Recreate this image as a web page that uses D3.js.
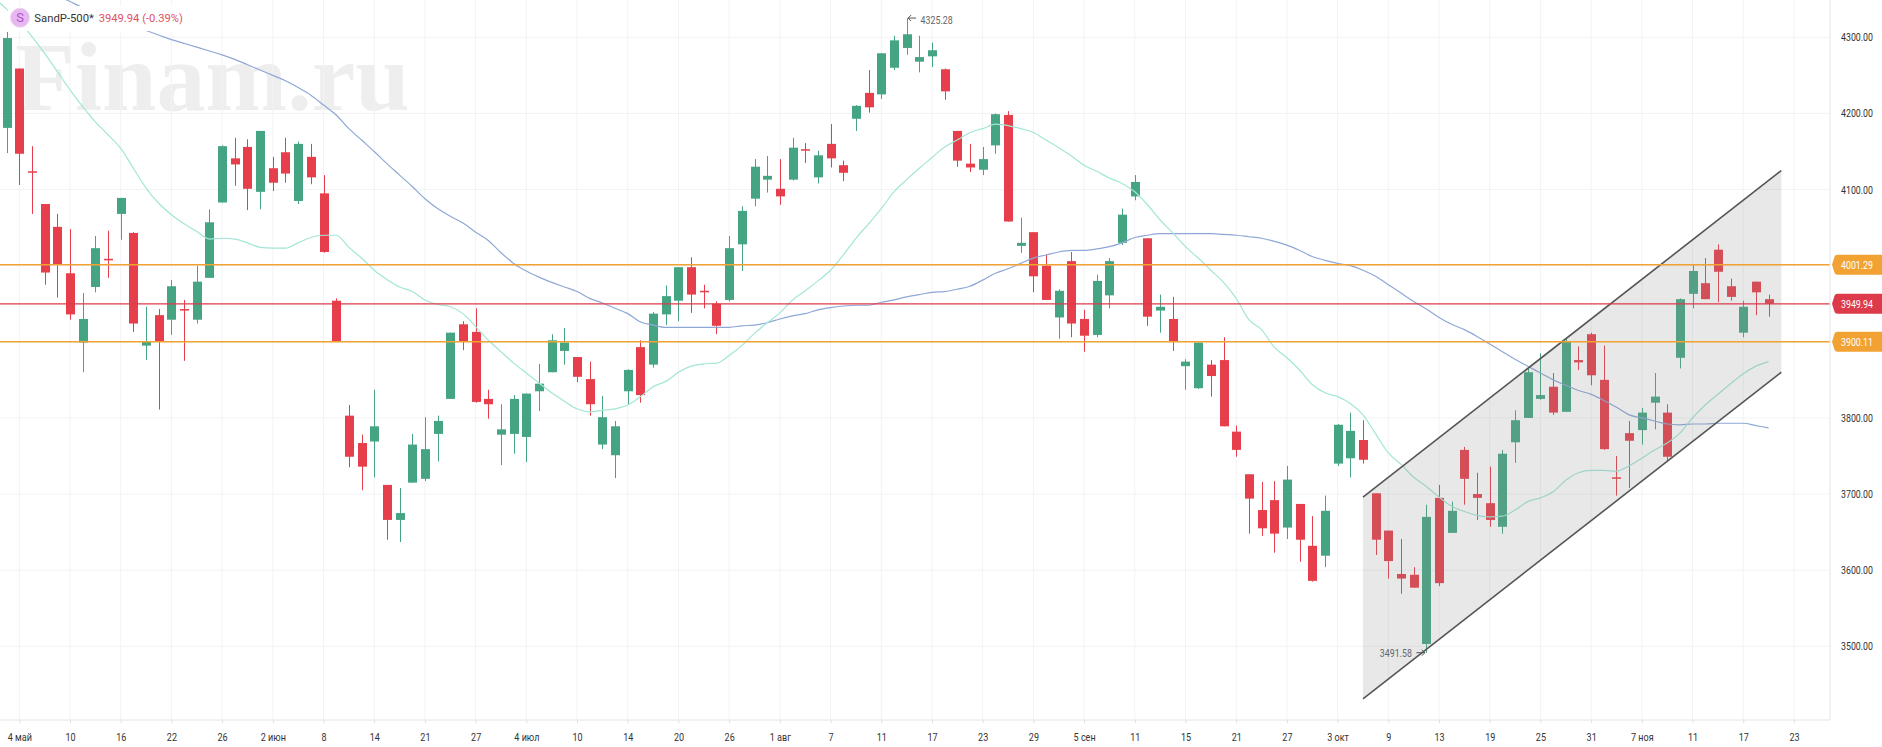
<!DOCTYPE html>
<html>
<head>
<meta charset="utf-8">
<script src="https://cdn.jsdelivr.net/npm/d3@7"></script>
<style>
html,body{margin:0;padding:0;background:#fff;overflow:hidden}
svg{display:block}
text{font-family:Roboto,Arial,sans-serif}
</style>
</head>
<body>
<svg id="chart" width="1882" height="747"></svg>
<script>
// daily bars
const opens=[4181,4259,4124,4081,4051,3990,3899,3972,4009,4068,
4043,3895,3935,3929,3943,3929,3984,4083,4141,4156,
4097,4128,4149,4085,4143,4095,3954,3803,3767,3769,
3712,3666,3715,3720,3779,3825,3923,3913,3825,3778,
3779,3775,3835,3860,3888,3880,3851,3765,3751,3835,
3893,3870,3936,3954,3998,3967,3950,3955,4028,4088,
4113,4101,4113,4153,4116,4160,4132,4193,4227,4225,
4260,4286,4268,4275,4258,4177,4134,4126,4158,4198,
4026,4044,4000,3932,4006,3930,3909,3961,4030,4091,
4036,3941,3930,3868,3839,3870,3876,3782,3726,3679,
3692,3656,3687,3632,3619,3740,3747,3771,3701,3652,
3595,3594,3503,3695,3649,3758,3700,3688,3657,3768,
3800,3825,3841,3808,3876,3910,3850,3722,3780,3784,
3820,3807,3879,3963,3977,4021,3973,3912,3979,3956]
const closes=[4299,4147,4123,3991,4002,3936,3930,4023,4008,4089,
3924,3901,3901,3973,3941,3979,4057,4157,4133,4101,
4177,4109,4121,4160,4116,4018,3901,3749,3736,3789,
3666,3675,3765,3759,3796,3912,3900,3821,3818,3785,
3825,3832,3845,3902,3899,3854,3818,3801,3789,3863,
3830,3937,3960,3998,3962,3965,3921,4023,4072,4130,
4118,4091,4155,4152,4145,4141,4122,4210,4208,4279,
4296,4304,4274,4283,4229,4138,4129,4140,4199,4058,
4030,3986,3955,3967,3924,3908,3980,4006,4067,4110,
3933,3946,3901,3874,3899,3855,3789,3758,3694,3655,
3648,3719,3640,3586,3678,3791,3783,3745,3640,3612,
3589,3577,3670,3583,3678,3720,3695,3666,3753,3797,
3860,3830,3807,3900,3873,3856,3759,3720,3770,3807,
3828,3749,3956,3993,3956,3992,3959,3946,3965,3950]
const highs=[4307,4259,4157,4081,4068,4048,3964,4039,4046,4089,
4044,3946,3943,3981,3955,4000,4074,4158,4168,4166,
4177,4143,4168,4163,4160,4119,3957,3817,3778,3837,
3712,3708,3779,3801,3803,3912,3927,3944,3837,3818,
3830,3832,3871,3910,3918,3880,3874,3829,3796,3864,
3902,3939,3974,3998,4011,3975,3953,4039,4078,4140,
4144,4140,4168,4161,4151,4186,4138,4211,4257,4279,
4302,4325.28,4302,4293,4259,4177,4160,4156,4200,4203,
4063,4044,4015,3969,4018,3942,3988,4010,4075,4119,
4036,3962,3959,3877,3899,3876,3906,3790,3726,3716,
3717,3737,3687,3671,3698,3792,3807,3797,3701,3652,
3641,3604,3686,3712,3690,3762,3728,3736,3758,3810,
3865,3885,3859,3905,3894,3912,3895,3750,3796,3813,
3859,3818,3957,4001,4010,4028,3983,3954,3979,3962]
const lows=[4148,4106,4068,3975,3958,3929,3860,3965,3984,4034,
3913,3876,3811,3909,3875,3924,3984,4083,4105,4073,
4074,4098,4109,4081,4107,4017,3900,3735,3705,3722,
3640,3637,3715,3717,3743,3825,3889,3820,3799,3738,
3753,3742,3809,3860,3870,3847,3803,3759,3721,3817,
3820,3866,3922,3927,3938,3944,3910,3953,3993,4078,
4096,4080,4112,4135,4108,4129,4111,4177,4201,4219,
4257,4277,4254,4261,4218,4130,4123,4119,4147,4058,
4017,3965,3955,3904,3906,3887,3906,3944,4027,4086,
3921,3912,3888,3837,3838,3828,3789,3749,3648,3645,
3623,3641,3611,3585,3604,3737,3722,3740,3620,3589,
3569,3577,3491.58,3579,3649,3686,3666,3657,3648,3741,
3800,3824,3804,3808,3863,3843,3758,3698,3708,3765,
3785,3742,3865,3944,3956,3952,3954,3906,3935,3933]

// teal average, starts one bar left of the first candle
const maFast=[4352,4337,4321,4301,4279,4255,4231,4209,4189,4172,4154,
4128,4102,4082,4067,4055,4045,4035,4036,4035,4030,
4024,4023,4023,4030,4037,4040,4040,4024,4010,3994,
3982,3972,3966,3955,3949,3946,3937,3920,3902,3887,
3872,3859,3846,3833,3822,3812,3808,3810,3812,3817,
3828,3841,3848,3860,3868,3871,3872,3882,3895,3911,
3925,3938,3955,3967,3980,3994,4014,4036,4055,4075,
4097,4113,4128,4142,4156,4165,4175,4180,4186,4184,
4180,4175,4165,4155,4144,4132,4124,4115,4108,4097,
4080,4060,4043,4025,4010,3994,3978,3957,3929,3916,
3893,3879,3863,3844,3833,3828,3819,3804,3779,3754,
3739,3722,3710,3696,3684,3677,3672,3670,3671,3679,
3690,3695,3703,3718,3728,3731,3731,3730,3737,3747,
3758,3767,3780,3800,3817,3831,3845,3858,3868,3874]
// blue average, starts at bar 3
const maSlow=[4363,4355,4347,4339,4333,4327,4321,
4315,4309,4303,4297,4292,4287,4282,4277,4271,4264,
4257,4250,4243,4234,4224,4211,4198,4180,4165,4150,
4134,4119,4104,4088,4075,4065,4056,4044,4033,4017,
4003,3993,3985,3978,3972,3966,3957,3951,3944,3937,
3926,3922,3919,3919,3919,3919,3919,3919,3921,3922,
3925,3930,3934,3937,3942,3945,3947,3948,3948,3952,
3955,3959,3962,3965,3966,3969,3973,3981,3990,3996,
4003,4010,4014,4018,4020,4020,4022,4025,4030,4037,
4040,4042,4042,4042,4042,4042,4041,4040,4038,4036,
4032,4027,4020,4012,4007,4003,4000,3994,3986,3975,
3964,3953,3943,3932,3923,3916,3907,3897,3887,3877,
3868,3859,3850,3843,3836,3831,3823,3814,3804,3800,
3796,3792,3791,3792,3792,3793,3793,3793,3790,3787]

const dateLabels=["4 май","10","16","22","26","2 июн","8","14","21","27","4 июл","10","14","20","26","1 авг","7","11","17","23","29","5 сен","11","15","21","27","3 окт","9","13","19","25","31","7 ноя","11","17","23"]
const priceTicks=[3500,3600,3700,3800,4100,4200,4300]
const gridPrices=[3500,3600,3700,3800,3900,4000,4100,4200,4300]

// rising channel, two anchors each
const channelBars=[107,140]
const channelTop=[3696,4125]
const channelBottom=[3431,3860]

const levels=[4001.29,3949.94,3900.11]
const levelColors=["#f2a232","#dd3a4b","#f2a232"]

const plotRight=1830,plotBottom=720
const svg=d3.select('#chart')
const x=d3.scaleLinear().domain([0,139]).range([6.62,1768.6])
const y=d3.scaleLinear().domain([3500,4300]).range([646.3,37.3])
const up='#45a583',down='#e63f4b'

// the chart's labels are narrower than any installed font, squeeze them
const squeeze=(sel,k)=>sel.each(function(){
  d3.select(this).attr('textLength',this.getComputedTextLength()*k).attr('lengthAdjust','spacingAndGlyphs')
})

svg.append('clipPath').attr('id','plot').append('rect')
  .attr('width',plotRight).attr('height',plotBottom)

/*******watermark************ */
svg.append('text').text('Finam.ru')
  .attr('x',15).attr('y',110)
  .attr('fill','#eeeeee')
  .style('font-family','"Liberation Serif",serif')
  .style('font-weight','bold')
  .style('font-size','98px')

/*******grid************ */
const gridBars=dateLabels.map((d,i)=>1+i*4)
svg.append('g').selectAll('line').data(gridBars).join('line')
  .attr('x1',d=>x(d)).attr('x2',d=>x(d))
  .attr('y1',0).attr('y2',plotBottom)
  .attr('stroke','#f2f3f6')
svg.append('g').selectAll('line').data(gridPrices).join('line')
  .attr('x1',0).attr('x2',plotRight)
  .attr('y1',d=>y(d)).attr('y2',d=>y(d))
  .attr('stroke','#f2f3f6')

const plot=svg.append('g').attr('clip-path','url(#plot)')

/*******candles************ */
const bars=plot.append('g').selectAll('g').data(opens).join('g')
  .attr('fill',(d,i)=>closes[i]>=d?up:down)
bars.append('rect')
  .attr('x',(d,i)=>Math.round(x(i)))
  .attr('width',1)
  .attr('y',(d,i)=>y(highs[i]))
  .attr('height',(d,i)=>y(lows[i])-y(highs[i]))
bars.append('rect')
  .attr('x',(d,i)=>Math.round(x(i))-4)
  .attr('width',9)
  .attr('y',(d,i)=>y(Math.max(d,closes[i])))
  .attr('height',(d,i)=>Math.max(1.5,Math.abs(y(d)-y(closes[i]))))

/*******moving averages************ */
const fastLine=d3.line().x((d,i)=>x(i-1)).y(d=>y(d)).curve(d3.curveMonotoneX)
const slowLine=d3.line().x((d,i)=>x(i+3)).y(d=>y(d)).curve(d3.curveMonotoneX)
plot.append('path').attr('d',slowLine(maSlow)).attr('fill','none').attr('stroke','#8ea8d6').attr('stroke-width',1.2)
plot.append('path').attr('d',fastLine(maFast)).attr('fill','none').attr('stroke','#a2e6d6').attr('stroke-width',1.2)

/*******channel************ */
const channelArea=d3.area().x((d,i)=>x(channelBars[i])).y0((d,i)=>y(channelBottom[i])).y1(d=>y(d))
plot.append('path').attr('d',channelArea(channelTop)).attr('fill','rgba(140,140,140,0.2)')
const channelLine=d3.line().x((d,i)=>x(channelBars[i])).y(d=>y(d))
;[channelTop,channelBottom].forEach(c=>plot.append('path')
  .attr('d',channelLine(c)).attr('fill','none')
  .attr('stroke','#555').attr('stroke-width',1.6))

/*******levels************ */
plot.append('g').selectAll('line').data(levels).join('line')
  .attr('x1',0).attr('x2',plotRight)
  .attr('y1',d=>y(d)).attr('y2',d=>y(d))
  .attr('stroke',(d,i)=>levelColors[i])
  .attr('stroke-width',(d,i)=>i==1?1.3:1.5)

/*******high/low notes************ */
const noteHigh=svg.append('g').attr('transform',`translate(${x(71)},${y(highs[71])})`)
noteHigh.append('path').attr('d','M9.5,0H1.5M4.5,-3L1.5,0L4.5,3').attr('fill','none').attr('stroke','#555')
noteHigh.append('text').text('4325.28').attr('x',14).attr('y',5.5)
  .attr('fill','#666').style('font-size','11px').call(squeeze,0.8)
const noteLow=svg.append('g').attr('transform',`translate(${x(112)},${y(lows[112])})`)
noteLow.append('path').attr('d','M-10,0H-1.5M-4.5,-3L-1.5,0L-4.5,3').attr('fill','none').attr('stroke','#555')
noteLow.append('text').text('3491.58').attr('x',-14.5).attr('y',4.5).attr('text-anchor','end')
  .attr('fill','#666').style('font-size','11px').call(squeeze,0.8)

/*******axes************ */
const xAxis=d3.axisBottom(x).tickValues(gridBars)
  .tickFormat((d,i)=>dateLabels[i]).tickSize(3).tickPadding(10)
const gx=svg.append('g').attr('transform',`translate(0,${plotBottom})`).call(xAxis)
gx.select('.domain').remove()
gx.selectAll('line').attr('stroke','#dcdde0')
gx.selectAll('text').attr('fill','#333').style('font-size','11px').call(squeeze,0.82)
svg.append('line').attr('x1',0).attr('x2',plotRight).attr('y1',plotBottom).attr('y2',plotBottom).attr('stroke','#e4e5e8')
svg.append('line').attr('x1',plotRight).attr('x2',plotRight).attr('y1',0).attr('y2',plotBottom).attr('stroke','#e4e5e8')

const yAxis=d3.axisRight(y).tickValues(priceTicks).tickFormat(d3.format('.2f')).tickSize(0).tickPadding(11)
const gy=svg.append('g').attr('transform',`translate(${plotRight},0)`).call(yAxis)
gy.select('.domain').remove()
gy.selectAll('text').attr('fill','#333').style('font-size','11px').call(squeeze,0.8)

/*******level tags************ */
const tags=svg.append('g').selectAll('g').data(levels).join('g')
  .attr('transform',d=>`translate(${plotRight+2},${y(d)})`)
tags.append('path')
  .attr('d','M0,0 L2.5,-8 Q3,-10 5.5,-10 L50,-10 L50,10 L5.5,10 Q3,10 2.5,8 Z')
  .attr('fill',(d,i)=>levelColors[i])
tags.append('text').text(d=>d.toFixed(2))
  .attr('x',9).attr('y',4)
  .attr('fill','#fff').style('font-size','11px').call(squeeze,0.8)

/*******legend************ */
svg.append('rect').attr('x',8).attr('y',6).attr('width',178).attr('height',25).attr('fill','#fff')
svg.append('circle').attr('cx',20).attr('cy',17.7).attr('r',9.5).attr('fill','#e6b8ef').attr('stroke','#eed3f3')
svg.append('text').text('S').attr('x',20).attr('y',22.3).attr('text-anchor','middle')
  .attr('fill','#b052d2').style('font-size','13px')
svg.append('text').text('SandP-500*').attr('x',34.3).attr('y',22)
  .attr('fill','#333').style('font-size','11.3px')
svg.append('text').text('3949.94 (-0.39%)').attr('x',98.7).attr('y',22)
  .attr('fill','#e2505f').style('font-size','11.2px')
</script>
</body>
</html>
